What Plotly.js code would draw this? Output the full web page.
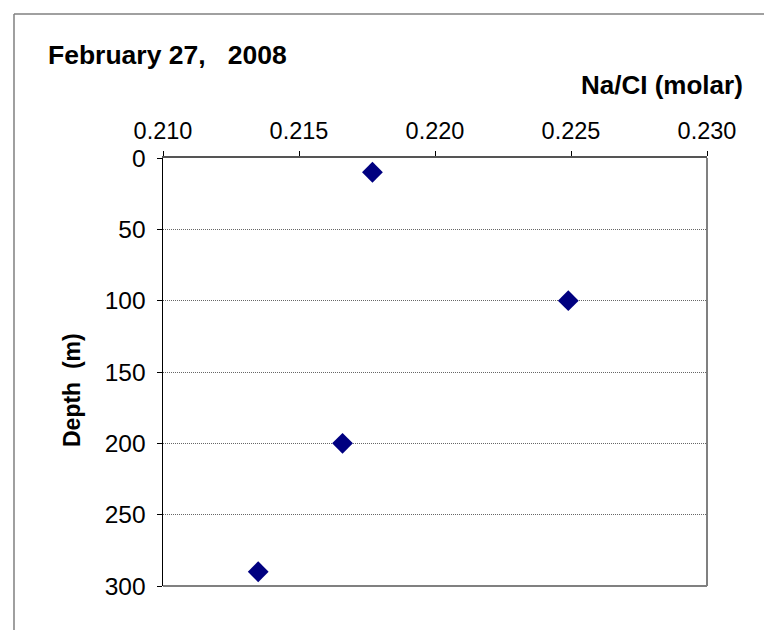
<!DOCTYPE html>
<html>
<head>
<meta charset="utf-8">
<script src="https://cdn.plot.ly/plotly-3.0.1.min.js"></script>
<style>html,body{margin:0;padding:0;background:#fff;}#chart{width:764px;height:630px;}</style>
</head>
<body>
<div id="chart"></div>
<script>
const naClRatio = [0.2177, 0.2249, 0.2166, 0.2135];
const depth = [10, 100, 200, 290];
const xTicks = [0.210, 0.215, 0.220, 0.225, 0.230];
const xTickLabels = ['0.210', '0.215', '0.220', '0.225', '0.230'];
const yTicks = [0, 50, 100, 150, 200, 250, 300];

const trace = {
  x: naClRatio, y: depth, type: 'scatter', mode: 'markers',
  marker: {symbol: 'diamond', size: 16, color: '#000080', line: {width: 0}},
  cliponaxis: false, hoverinfo: 'x+y'
};

const layout = {
  width: 764, height: 630,
  margin: {l: 163, r: 57, t: 158, b: 44},
  paper_bgcolor: '#fff', plot_bgcolor: '#fff',
  showlegend: false,
  font: {family: 'Liberation Sans, Arial, sans-serif', color: '#000'},
  title: {text: '<b>February 27,   2008</b>', font: {size: 26.5, color: '#000'},
          xref: 'container', x: 48/764, xanchor: 'left', yref: 'container', y: 1 - 55/630, yanchor: 'middle'},
  xaxis: {
    side: 'top', range: [0.210, 0.230], tickvals: xTicks, ticktext: xTickLabels,
    ticks: 'outside', ticklen: 5, tickcolor: '#000', tickwidth: 1, ticklabelstandoff: 3,
    showline: true, linecolor: '#555', linewidth: 2, mirror: false,
    showgrid: false, zeroline: false, tickfont: {size: 23.5, color: '#000'}
  },
  yaxis: {
    range: [300, 0], tickvals: yTicks, ticks: 'outside', ticklen: 5, tickcolor: '#000', tickwidth: 1,
    ticklabelstandoff: 6,
    showline: true, linecolor: '#000', linewidth: 1.5,
    showgrid: true, gridcolor: '#666', gridwidth: 1, griddash: '1px,1px',
    zeroline: false, tickfont: {size: 24.5, color: '#000'}
  },
  shapes: [
    {type: 'line', xref: 'paper', yref: 'paper', x0: 1, x1: 1, y0: 0, y1: 1, line: {color: '#808080', width: 2}},
    {type: 'line', xref: 'paper', yref: 'paper', x0: 0, x1: 1, y0: 0, y1: 0, line: {color: '#808080', width: 2}},
    {type: 'line', xref: 'paper', yref: 'paper', x0: -0.2739, x1: -0.2739, y0: -0.2, y1: 1.3364, line: {color: '#808080', width: 1.5}},
    {type: 'line', xref: 'paper', yref: 'paper', x0: -0.2739, x1: 1.2, y0: 1.3364, y1: 1.3364, line: {color: '#808080', width: 1.5}}
  ],
  annotations: [
    {text: '<b>Na/CI (molar)</b>', xref: 'paper', yref: 'paper', x: 1.07, y: (586-85)/428,
     xanchor: 'right', yanchor: 'middle', showarrow: false, font: {size: 26, color: '#000'}},
    {text: '<b>Depth  (m)</b>', xref: 'paper', yref: 'paper', x: (72-163)/544, y: (586-390)/428,
     xanchor: 'center', yanchor: 'middle', textangle: -90, showarrow: false, font: {size: 23, color: '#000'}}
  ]
};

Plotly.newPlot('chart', [trace], layout, {displayModeBar: false, staticPlot: true});
</script>
</body>
</html>
